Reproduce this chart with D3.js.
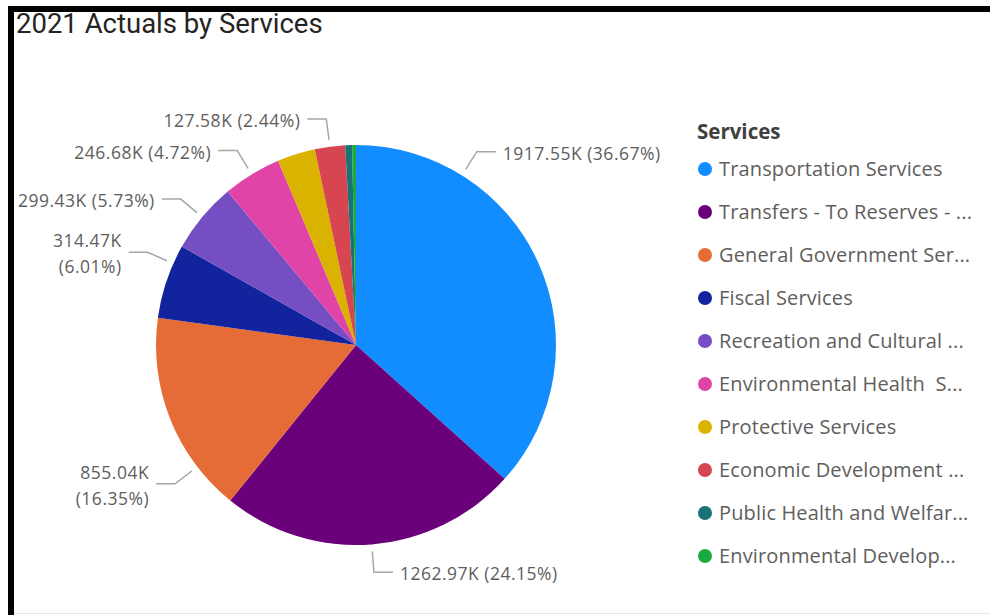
<!DOCTYPE html>
<html>
<head>
<meta charset="utf-8">
<script src="https://cdn.jsdelivr.net/npm/d3@7"></script>
<style>
  html, body { margin: 0; padding: 0; background: #ffffff; }
  svg { display: block; }
</style>
</head>
<body>
<svg id="chart" width="990" height="615"></svg>
<script>
// ---- data ----
const title = "2021 Actuals by Services";
const legendTitle = "Services";
const categories = [
  "Transportation Services",
  "Transfers - To Reserves - ...",
  "General Government Ser...",
  "Fiscal Services",
  "Recreation and Cultural ...",
  "Environmental Health  S...",
  "Protective Services",
  "Economic Development ...",
  "Public Health and Welfar...",
  "Environmental Develop..."
];
const values = [1917.55, 1262.97, 855.04, 314.47, 299.43, 246.68, 160.5, 127.58, 28.8, 16.2]; // thousands
const colors = ["#118DFF", "#6B007B", "#E66C37", "#12239E", "#744EC2", "#E044A7", "#D9B300", "#D64550", "#197278", "#1AAB40"];

// ---- label layout (presentation only) ----
// angleDeg: where the leader line leaves the slice (null = slice middle); wrap: value and percent on two lines
const labelLayout = [
  { show: true, angleDeg: 32 },
  { show: true, angleDeg: null },
  { show: true, angleDeg: 232.5, wrap: true },
  { show: true, angleDeg: 294, wrap: true },
  { show: true, angleDeg: null },
  { show: true, angleDeg: null },
  { show: false },
  { show: true, angleDeg: null },
  { show: false },
  { show: false }
];

const W = 990, H = 615;
const svg = d3.select("#chart");

// frame
svg.append("rect").attr("x", 8).attr("y", 6).attr("width", W - 8).attr("height", 6).attr("fill", "#000");
svg.append("rect").attr("x", 8).attr("y", 6).attr("width", 6).attr("height", H - 6).attr("fill", "#000");
svg.append("line").attr("x1", 14).attr("x2", W).attr("y1", 613.5).attr("y2", 613.5)
  .attr("stroke", "#e6e6e6").attr("stroke-width", 1);

// title
svg.append("text")
  .attr("x", 16).attr("y", 33)
  .attr("font-family", "Roboto, 'Open Sans', sans-serif")
  .attr("font-size", 27.5)
  .attr("fill", "#252423")
  .text(title);

// pie
const cx = 356, cy = 345, R = 200;
const total = d3.sum(values);
const data = categories.map((c, i) => ({ name: c, value: values[i], color: colors[i], layout: labelLayout[i] }));
const pie = d3.pie().value(d => d.value).sort(null);
const arcs = pie(data);
const arc = d3.arc().innerRadius(0).outerRadius(R);

const g = svg.append("g").attr("transform", `translate(${cx},${cy})`);
g.selectAll("path.slice").data(arcs).join("path")
  .attr("class", "slice")
  .attr("d", arc)
  .attr("fill", d => d.data.color);

// labels
const fmtVal = v => d3.format(".2f")(v) + "K";
const fmtPct = v => "(" + d3.format(".2%")(v) + ")";
const labelFont = "'Open Sans', 'Noto Sans', sans-serif";
const labelSize = 17.5;
const r0 = R + 7, r1 = R + 28, hLen = 19, gap = 7, lineH = 26;

arcs.forEach(a => {
  const L = a.data.layout;
  if (!L.show) return;
  const ang = L.angleDeg == null ? (a.startAngle + a.endAngle) / 2 : L.angleDeg * Math.PI / 180;
  const sx = Math.sin(ang), sy = -Math.cos(ang);
  const p0 = [sx * r0, sy * r0];
  const p1 = [sx * r1, sy * r1];
  const right = sx >= 0;
  const p2 = [p1[0] + (right ? hLen : -hLen), p1[1]];
  g.append("polyline")
    .attr("points", [p0, p1, p2].map(p => p.join(",")).join(" "))
    .attr("fill", "none")
    .attr("stroke", "#a6a6a6")
    .attr("stroke-width", 1.5);
  const tx = p2[0] + (right ? gap : -gap);
  const valueText = fmtVal(a.data.value);
  const pctText = fmtPct(a.data.value / total);
  const t = g.append("text")
    .attr("font-family", labelFont)
    .attr("font-size", labelSize)
    .attr("letter-spacing", 0.5)
    .attr("fill", "#605E5C")
    .attr("text-anchor", right ? "start" : "end");
  if (L.wrap) {
    const top = p2[1] + 2 - lineH / 2;
    t.append("tspan").attr("x", tx).attr("y", top).attr("dy", "0.35em").text(valueText);
    t.append("tspan").attr("x", tx).attr("y", top + lineH).attr("dy", "0.35em").text(pctText);
  } else {
    t.attr("x", tx).attr("y", p2[1] + 2).attr("dy", "0.35em").text(valueText + " " + pctText);
  }
});

// legend
const lg = svg.append("g");
lg.append("text")
  .attr("x", 697).attr("y", 132).attr("dy", "0.35em")
  .attr("font-family", labelFont)
  .attr("font-size", 20.5)
  .attr("font-weight", "bold")
  .attr("fill", "#404040")
  .text(legendTitle);
const ly = d3.scalePoint().domain(categories).range([169, 556]);
const items = lg.selectAll("g.item").data(data).join("g")
  .attr("class", "item")
  .attr("transform", d => `translate(0,${ly(d.name)})`);
items.append("circle").attr("cx", 705).attr("cy", 0).attr("r", 7).attr("fill", d => d.color);
items.append("text")
  .attr("x", 719).attr("y", 0).attr("dy", "0.35em")
  .attr("font-family", labelFont)
  .attr("font-size", 20)
  .attr("letter-spacing", 0.15)
  .attr("fill", "#605E5C")
  .style("white-space", "pre")
  .text(d => d.name);
</script>
</body>
</html>
